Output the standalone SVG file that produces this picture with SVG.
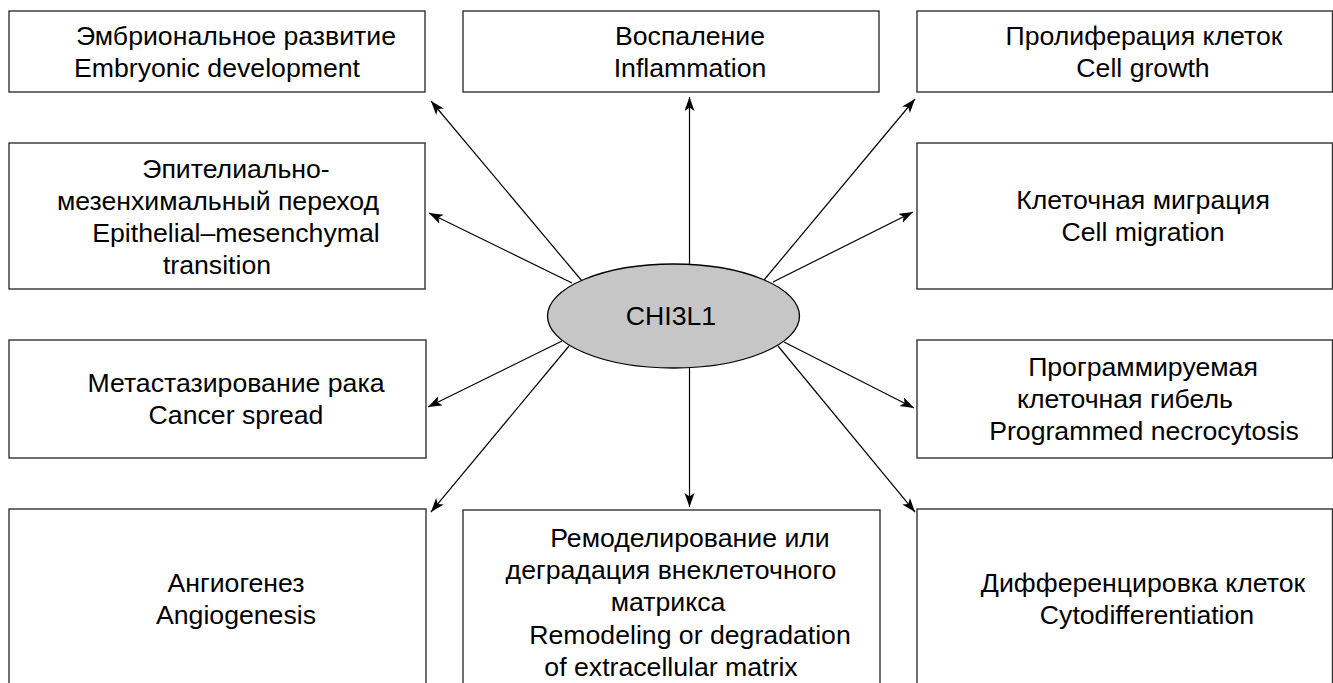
<svg xmlns="http://www.w3.org/2000/svg" width="1333" height="683" viewBox="0 0 1333 683">
<style>
.box{fill:#fff;stroke:#333;stroke-width:1.4}
.t{font-family:"Liberation Sans",Arial,sans-serif;font-size:26.67px;fill:#000;text-anchor:middle}
.c{fill:none;stroke:#000;stroke-width:1.2;marker-end:url(#ah)}
</style>
<defs>
<marker id="ah" markerUnits="userSpaceOnUse" markerWidth="15" markerHeight="11" refX="14" refY="5" orient="auto">
<path d="M0,0 L14,5 L0,10 L3.5,5 z" fill="#000"/>
</marker>
</defs>
<rect width="1333" height="683" fill="#fff"/>
<g id="connectors">
<line class="c" x1="582" y1="281" x2="431" y2="101"/>
<line class="c" x1="572" y1="283" x2="429" y2="213"/>
<line class="c" x1="689.5" y1="264" x2="689.5" y2="97"/>
<line class="c" x1="764" y1="280" x2="915" y2="99"/>
<line class="c" x1="773" y1="282" x2="913" y2="212"/>
<line class="c" x1="562" y1="341" x2="428" y2="407"/>
<line class="c" x1="569" y1="346" x2="431" y2="512"/>
<line class="c" x1="689.5" y1="368" x2="689.5" y2="507"/>
<line class="c" x1="784" y1="342" x2="914" y2="408"/>
<line class="c" x1="778" y1="346" x2="915" y2="512"/>
</g>
<g id="center">
<ellipse cx="673.5" cy="316" rx="126" ry="52" fill="#c6c6c6" stroke="#000" stroke-width="1.3"/>
<text class="t" x="671" y="325">CHI3L1</text>
</g>
<g id="embryonic">
<rect class="box" x="9" y="11" width="416" height="81"/>
<text class="t" x="236" y="45">Эмбриональное развитие</text>
<text class="t" x="217" y="77">Embryonic development</text>
</g>
<g id="emt">
<rect class="box" x="9" y="143" width="416" height="146"/>
<text class="t" x="236" y="178">Эпителиально-</text>
<text class="t" x="218" y="210">мезенхимальный переход</text>
<text class="t" x="236" y="242">Epithelial–mesenchymal</text>
<text class="t" x="217" y="274">transition</text>
</g>
<g id="cancer">
<rect class="box" x="9" y="340" width="417" height="118"/>
<text class="t" x="236" y="392">Метастазирование рака</text>
<text class="t" x="236" y="424">Cancer spread</text>
</g>
<g id="angiogenesis">
<rect class="box" x="9" y="509" width="417" height="182"/>
<text class="t" x="236" y="592">Ангиогенез</text>
<text class="t" x="236" y="624">Angiogenesis</text>
</g>
<g id="inflammation">
<rect class="box" x="463" y="11" width="416" height="81"/>
<text class="t" x="690" y="45">Воспаление</text>
<text class="t" x="690" y="77">Inflammation</text>
</g>
<g id="ecm">
<rect class="box" x="463" y="510" width="417" height="182"/>
<text class="t" x="690" y="547">Ремоделирование или</text>
<text class="t" x="671" y="579">деградация внеклеточного</text>
<text class="t" x="668" y="611">матрикса</text>
<text class="t" x="690" y="644">Remodeling or degradation</text>
<text class="t" x="671" y="676">of extracellular matrix</text>
</g>
<g id="growth">
<rect class="box" x="917" y="11" width="415.5" height="81"/>
<text class="t" x="1144" y="45">Пролиферация клеток</text>
<text class="t" x="1143" y="77">Cell growth</text>
</g>
<g id="migration">
<rect class="box" x="917" y="143" width="415.5" height="146"/>
<text class="t" x="1143" y="209">Клеточная миграция</text>
<text class="t" x="1143" y="241">Cell migration</text>
</g>
<g id="necrocytosis">
<rect class="box" x="917" y="340" width="415.5" height="118"/>
<text class="t" x="1143" y="376">Программируемая</text>
<text class="t" x="1125" y="408">клеточная гибель</text>
<text class="t" x="1144" y="440">Programmed necrocytosis</text>
</g>
<g id="differentiation">
<rect class="box" x="917" y="509" width="415.5" height="182"/>
<text class="t" x="1143" y="592">Дифференцировка клеток</text>
<text class="t" x="1147" y="624">Cytodifferentiation</text>
</g>
</svg>
